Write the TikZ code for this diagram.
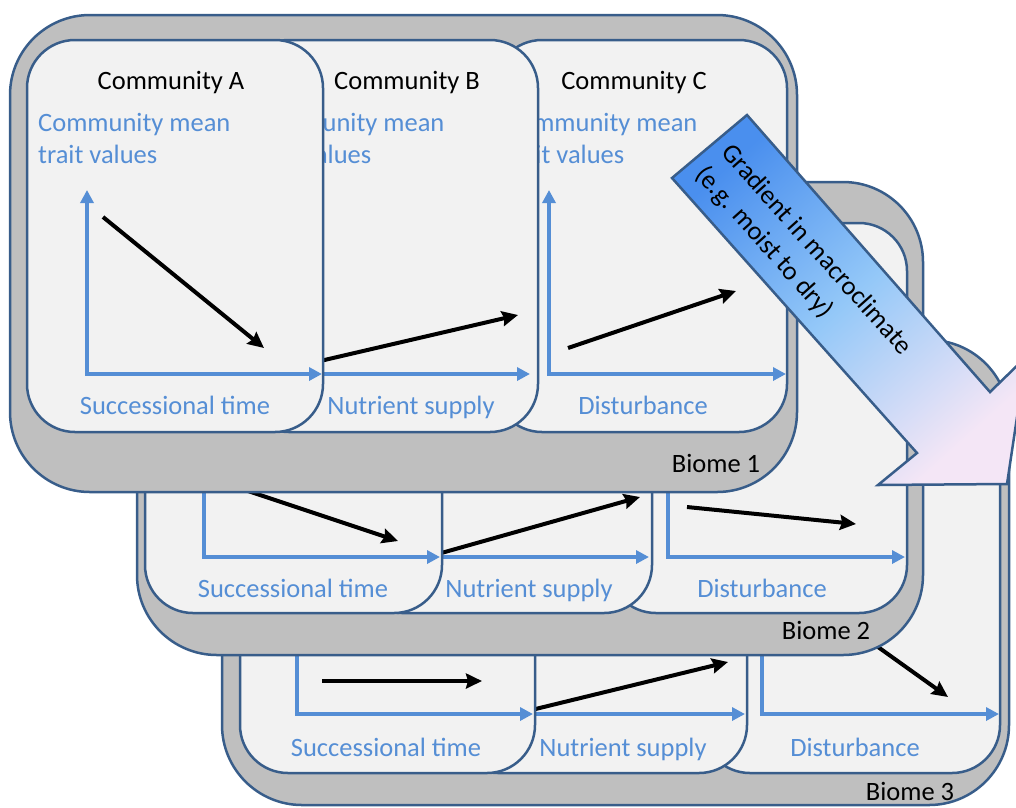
\documentclass[tikz,border=0pt]{standalone}
\usepackage{fontspec}
\setmainfont{Carlito}
\usetikzlibrary{arrows.meta}
\definecolor{bandgrey}{HTML}{BFBFBF}
\definecolor{bordblue}{HTML}{385D8A}
\definecolor{panelfill}{HTML}{F2F2F2}
\definecolor{axisblue}{HTML}{558ED5}
\definecolor{gradA}{HTML}{4A8FEE}
\definecolor{gradB}{HTML}{94C8F8}
\definecolor{gradC}{HTML}{F4E6F6}
\newcommand\dfont{\fontsize{26.5}{36}\selectfont}
\begin{document}
\begin{tikzpicture}[x=1pt,y=-1pt,
  biome/.style={fill=bandgrey,draw=bordblue,line width=2.5pt,rounded corners=80pt},
  panel/.style={fill=panelfill,draw=bordblue,line width=2.5pt,rounded corners=48pt},
  axis/.style={draw=axisblue,line width=3.5pt,line join=miter},
  axtwo/.style={axis,{Triangle[length=13pt,width=13pt]}-{Triangle[length=13pt,width=13pt]}},
  axone/.style={axis,-{Triangle[length=13pt,width=13pt]}},
  trend/.style={draw=black,line width=4pt,-{Stealth[length=16pt,width=15pt,inset=2pt]}},
  ttl/.style={text=black,font=\dfont,anchor=base,inner sep=0pt},
  lbl/.style={text=axisblue,font=\dfont,anchor=base,inner sep=0pt},
  ylbl/.style={text=axisblue,font=\dfont,anchor=base west,inner sep=0pt},
  bigarrow/.style={draw=bordblue,line width=2.5pt,line join=miter,
     top color=gradA,bottom color=gradC,middle color=gradB,shading angle=42}
]
\useasboundingbox (0,0) rectangle (1016,807);

% ================= Biome 3 =================
\path[biome] (222,340) rectangle (1009,805);
% community C
\path[panel] (702,381) rectangle (1000,773);
\coordinate (c3y) at (762,530); \coordinate (c3o) at (762,714); \coordinate (c3x) at (999,714);
\draw[axtwo] (c3y) -- (c3o) -- (c3x);
\coordinate (c3s) at (850,627); \coordinate (c3e) at (948,697);
\draw[trend] (c3s) -- (c3e);
\node[lbl] (c3l) at (855,756) {Disturbance};
% community B
\path[panel] (450,381) rectangle (747,773);
\coordinate (b3o) at (510,714); \coordinate (b3x) at (745,714);
\draw[axone] (b3o) -- (b3x);
\coordinate (b3s) at (515,714); \coordinate (b3e) at (728,662);
\draw[trend] (b3s) -- (b3e);
\node[lbl] (b3l) at (623,756) {Nutrient supply};
% community A
\path[panel] (240,381) rectangle (535,773);
\coordinate (a3y) at (297,530); \coordinate (a3o) at (297,714); \coordinate (a3x) at (533,714);
\draw[axtwo] (a3y) -- (a3o) -- (a3x);
\coordinate (a3s) at (322,681); \coordinate (a3e) at (482,681);
\draw[trend] (a3s) -- (a3e);
\node[lbl] (a3l) at (386,756) {Successional time};
\node[ttl] (bio3) at (910,800) {Biome 3};

% ================= Biome 2 =================
\path[biome] (137,182) rectangle (923,655);
% community C
\path[panel] (608,223) rectangle (907,613);
\coordinate (c2y) at (668,373); \coordinate (c2o) at (668,557); \coordinate (c2x) at (905,557);
\draw[axtwo] (c2y) -- (c2o) -- (c2x);
\coordinate (c2s) at (687,507); \coordinate (c2e) at (856,524);
\draw[trend] (c2s) -- (c2e);
\node[lbl] (c2l) at (762,597) {Disturbance};
% community B
\path[panel] (354,223) rectangle (652,613);
\coordinate (b2o) at (414,557); \coordinate (b2x) at (649,557);
\draw[axone] (b2o) -- (b2x);
\coordinate (b2s) at (420,559); \coordinate (b2e) at (640,497);
\draw[trend] (b2s) -- (b2e);
\node[lbl] (b2l) at (529,597) {Nutrient supply};
% community A
\path[panel] (145,223) rectangle (442,613);
\coordinate (a2y) at (204,373); \coordinate (a2o) at (204,557); \coordinate (a2x) at (440,557);
\draw[axtwo] (a2y) -- (a2o) -- (a2x);
\coordinate (a2s) at (230,485); \coordinate (a2e) at (398,541);
\draw[trend] (a2s) -- (a2e);
\node[lbl] (a2l) at (293,597) {Successional time};
\node[ttl] (bio2) at (826,639) {Biome 2};

% ================= Biome 1 =================
\path[biome] (10,15) rectangle (797,492);
% community C
\path[panel] (494,40) rectangle (787,432);
\node[ttl] (c1t) at (634,89) {Community C};
\node[ylbl] (c1m) at (505,131) {Community mean};
\node[ylbl] (c1v) at (505,163) {trait values};
\coordinate (c1y) at (549,190); \coordinate (c1o) at (549,374); \coordinate (c1x) at (786,374);
\draw[axtwo] (c1y) -- (c1o) -- (c1x);
\coordinate (c1s) at (568,348); \coordinate (c1e) at (736,291);
\draw[trend] (c1s) -- (c1e);
\node[lbl] (c1l) at (643,414) {Disturbance};
% community B
\path[panel] (241,40) rectangle (538,432);
\node[ttl] (b1t) at (407,89) {Community B};
\node[ylbl] (b1m) at (252,131) {Community mean};
\node[ylbl] (b1v) at (252,163) {trait values};
\coordinate (b1o) at (302,374); \coordinate (b1x) at (530,374);
\draw[axone] (b1o) -- (b1x);
\coordinate (b1s) at (290,368); \coordinate (b1e) at (518,315);
\draw[trend] (b1s) -- (b1e);
\node[lbl] (b1l) at (411,414) {Nutrient supply};
% community A
\path[panel] (27,40) rectangle (323,432);
\node[ttl] (a1t) at (171,89) {Community A};
\node[ylbl] (a1m) at (38,131) {Community mean};
\node[ylbl] (a1v) at (38,163) {trait values};
\coordinate (a1y) at (87,190); \coordinate (a1o) at (87,374); \coordinate (a1x) at (322,374);
\draw[axtwo] (a1y) -- (a1o) -- (a1x);
\coordinate (a1s) at (103,217); \coordinate (a1e) at (264,348);
\draw[trend] (a1s) -- (a1e);
\node[lbl] (a1l) at (175,414) {Successional time};
\node[ttl] (bio1) at (716,472) {Biome 1};

% ================= Gradient arrow =================
\coordinate (g1) at (672,178);
\coordinate (g2) at (747,115);
\coordinate (g3) at (990,392);
\coordinate (g4) at (1026,357);
\coordinate (g5) at (1007,484);
\coordinate (g6) at (878,485);
\coordinate (g7) at (917,453);
\path[bigarrow] (g1) -- (g2) -- (g3) -- (g4) -- (g5) -- (g6) -- (g7) -- cycle;
\node[rotate=-48.2,anchor=base west,font=\dfont,inner sep=0pt] (gradl1) at (720,153)
  {Gradient in macroclimate};
\node[rotate=-48.2,anchor=base west,font=\dfont,inner sep=0pt] (gradl2) at (694,175)
  {(e.g. moist to dry)};
\end{tikzpicture}
\end{document}
